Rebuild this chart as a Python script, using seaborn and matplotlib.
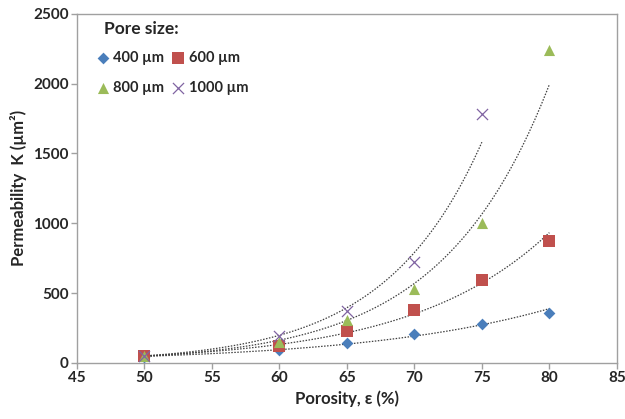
import numpy as np
import pandas as pd
import matplotlib
matplotlib.use("Agg")
import matplotlib.pyplot as plt
import seaborn as sns

porosity = [50, 60, 65, 70, 75, 80]
k_400 = [45, 90, 145, 205, 280, 355]
k_600 = [50, 120, 230, 375, 590, 870]
k_800 = [50, 150, 310, 530, 1000, 2240]
porosity_1000 = [50, 60, 65, 70, 75]
k_1000 = [52, 195, 370, 720, 1780]

series = [
    ("400 µm", porosity, k_400, "D", "#4a7ebb", 6),
    ("600 µm", porosity, k_600, "s", "#c0504d", 8),
    ("800 µm", porosity, k_800, "^", "#9bbb59", 8),
    ("1000 µm", porosity_1000, k_1000, "x", "#8064a2", 8),
]

rows = []
for name, xs, ys, *_ in series:
    for x, y in zip(xs, ys):
        rows.append({"Pore size": name, "Porosity": x, "K": y})
df = pd.DataFrame(rows)

sns.set_theme(style="white")
plt.rcParams["font.family"] = ["Lato", "DejaVu Sans"]

fig = plt.figure(figsize=(6.25, 4.19), dpi=100)
ax = fig.add_axes([0.123, 0.134, 0.864, 0.833])

# exponential trendlines
for name, xs, ys, *_ in series:
    b, a = np.polyfit(np.array(xs, float), np.log(np.array(ys, float)), 1)
    xx = np.linspace(min(xs), max(xs), 200)
    ax.plot(xx, np.exp(a + b * xx), linestyle=(0, (1.2, 1.2)), color="#404040", lw=0.9, zorder=1)

for name, xs, ys, m, c, s in series:
    sub = df[df["Pore size"] == name]
    sns.scatterplot(data=sub, x="Porosity", y="K", marker=m, color=c, s=s**2,
                    linewidth=0 if m != "x" else 0.9, ax=ax, label=name, zorder=3)

ax.set_xlim(45, 85)
ax.set_ylim(0, 2500)
ax.set_xticks(range(45, 86, 5))
ax.set_yticks(range(0, 2501, 500))
ax.set_xlabel("Porosity, ε (%)", fontsize=12, fontweight="bold")
ax.set_ylabel("Permeability  K (µm²)", fontsize=12, fontweight="bold")
for lab in ax.get_xticklabels() + ax.get_yticklabels():
    lab.set_fontweight("bold")
    lab.set_fontsize(11)
for sp in ax.spines.values():
    sp.set_color("#a0a0a0")
    sp.set_linewidth(1.0)
ax.tick_params(axis="both", direction="out", length=4, color="#a0a0a0", width=1, left=True, bottom=True, pad=2)

handles, labels = ax.get_legend_handles_labels()
order = [0, 2, 1, 3]
leg = ax.legend([handles[i] for i in order], [labels[i] for i in order],
                ncol=2, loc="upper left", frameon=False,
                bbox_to_anchor=(0.129, 0.909), bbox_transform=fig.transFigure,
                fontsize=10.5, handletextpad=0.1,
                columnspacing=0.4, labelspacing=1.1, handlelength=1.2)
for t in leg.get_texts():
    t.set_fontweight("bold")
fig.text(0.166, 0.931, "Pore size:", fontsize=12.5, fontweight="bold", va="center", ha="left")

fig.savefig("out.png", dpi=100)
